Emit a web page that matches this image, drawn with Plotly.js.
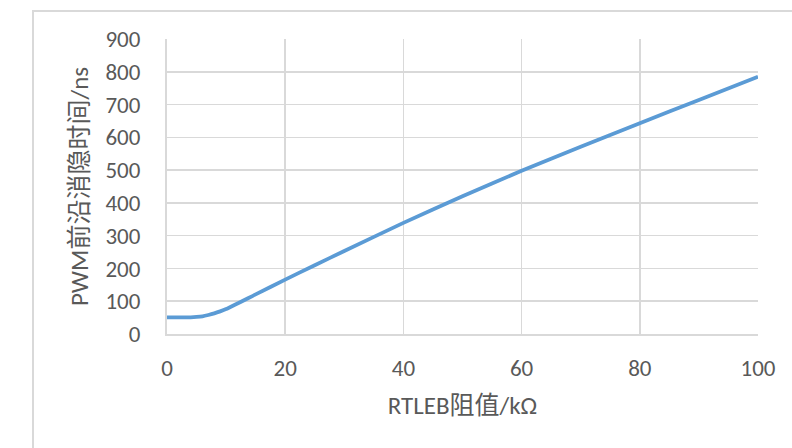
<!DOCTYPE html>
<html>
<head>
<meta charset="utf-8">
<script src="https://cdn.plot.ly/plotly-3.0.1.min.js"></script>
<style>
html,body{margin:0;padding:0;background:#fff;}
#wrap{position:relative;width:792px;height:448px;overflow:hidden;}
#frame{position:absolute;left:32px;top:10px;width:800px;height:460px;border-left:2px solid #d9d9d9;border-top:2px solid #d9d9d9;box-sizing:border-box;pointer-events:none;z-index:5;}
#chart{position:absolute;left:0;top:0;width:792px;height:448px;}
</style>
</head>
<body>
<div id="wrap">
<div id="chart"></div>
<div id="frame"></div>
</div>
<script>
const resistance = [0, 1, 2, 3, 4, 5, 6, 7, 8, 9, 10, 15, 20, 25, 30, 40, 50, 60, 70, 80, 90, 100];
const blankingTime = [51, 51, 51, 51, 51, 52, 54, 58, 63, 69, 76, 121, 166, 210, 253, 339, 420, 498, 571, 643, 714, 785];
const xTicks = [0, 20, 40, 60, 80, 100];
const yTicks = [0, 100, 200, 300, 400, 500, 600, 700, 800, 900];
const xTitle = 'RTLEB阻值/kΩ';
const yTitle = 'PWM前沿消隐时间/ns';

const font = 'Carlito, "Open Sans", "Noto Sans CJK SC", sans-serif';
const tickSize = 23;
const titleSize = 25;
const trace = {
  x: resistance,
  y: blankingTime,
  type: 'scatter',
  mode: 'lines',
  line: {color: '#5B9BD5', width: 3.8, shape: 'spline', smoothing: 0.6},
  hoverinfo: 'skip'
};
const layout = {
  width: 792, height: 448,
  margin: {l: 167, r: 34, t: 39, b: 114},
  paper_bgcolor: '#ffffff', plot_bgcolor: '#ffffff',
  showlegend: false,
  font: {family: font, color: '#595959', size: tickSize},
  xaxis: {
    range: [0, 100], tickvals: xTicks, ticktext: xTicks.map(String),
    showgrid: true, gridcolor: '#d9d9d9', gridwidth: 1.5,
    showline: true, linecolor: '#d9d9d9', linewidth: 2,
    zeroline: false, ticks: 'outside', ticklen: 12, tickcolor: 'rgba(0,0,0,0)',
    tickfont: {family: font, size: tickSize, color: '#595959'},
    title: {text: xTitle, font: {family: font, size: titleSize, color: '#595959'}, standoff: 16}
  },
  yaxis: {
    range: [0, 900], tickvals: yTicks, ticktext: yTicks.map(String),
    showgrid: true, gridcolor: '#d9d9d9', gridwidth: 1.5,
    showline: true, linecolor: '#d9d9d9', linewidth: 2,
    zeroline: false, ticks: 'outside', ticklen: 20, tickcolor: 'rgba(0,0,0,0)',
    tickfont: {family: font, size: tickSize, color: '#595959'},
    title: {text: yTitle, font: {family: font, size: titleSize, color: '#595959'}, standoff: 10}
  }
};
Plotly.newPlot('chart', [trace], layout, {staticPlot: true, displayModeBar: false});
</script>
</body>
</html>
